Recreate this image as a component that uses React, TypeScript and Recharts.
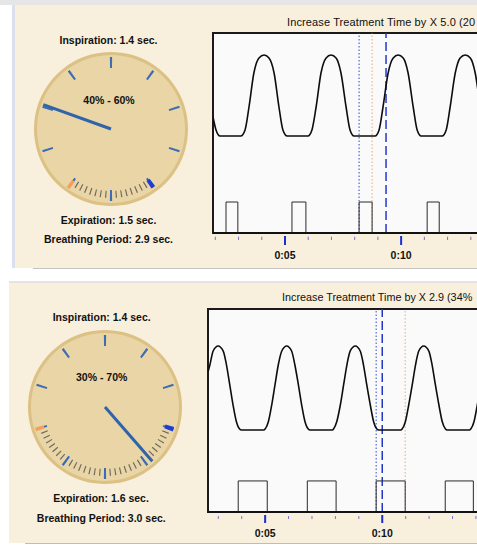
import React from 'react';
import {
  ComposedChart, Line, XAxis, YAxis, ReferenceLine, ReferenceArea,
  PieChart, Pie, Cell, PolarRadiusAxis,
} from 'recharts';

// ---------- top panel (40% - 60%) ----------
const topFlowTime = [
  1.9, 2.03, 2.2, 3.1, 3.28, 3.45, 3.66, 3.88, 4.1, 4.31, 4.53, 4.74, 4.91, 5.09,
  5.99, 6.16, 6.34, 6.55, 6.77, 6.98, 7.2, 7.41, 7.63, 7.8, 7.97,
  8.88, 9.05, 9.22, 9.44, 9.66, 9.87, 10.09, 10.3, 10.52, 10.69, 10.86,
  11.77, 11.94, 12.11, 12.33, 12.54, 12.76, 12.98, 13.19, 13.41, 13.58, 13.75, 14.3,
];
const topFlowValue = [
  58, 51.5, 48.5, 48.5, 51.5, 63, 80, 87.5, 89, 87.5, 80, 63, 51.5, 48.5,
  48.5, 51.5, 63, 80, 87.5, 89, 87.5, 80, 63, 51.5, 48.5,
  48.5, 51.5, 63, 80, 87.5, 89, 87.5, 80, 63, 51.5, 48.5,
  48.5, 51.5, 63, 80, 87.5, 89, 87.5, 80, 63, 51.5, 48.5, 48.5,
];
const topGateOn = [2.46, 5.3, 8.19, 11.12];
const topGateOff = [2.97, 5.9, 8.75, 11.64];
const topGateLevel = 15.5;
const topMarkers = { inspStart: 8.19, inspEnd: 8.75, now: 9.35 };
const topTicks = [2, 3, 4, 5, 6, 7, 8, 9, 10, 11, 12, 13, 14];

// ---------- bottom panel (30% - 70%) ----------
const botFlowTime = [
  2.56, 2.64, 2.78, 2.99, 3.21, 3.35, 3.49, 3.63, 3.77, 3.91, 3.99,
  4.95, 5.0, 5.14, 5.28, 5.42, 5.56, 5.71, 5.92, 6.13, 6.27, 6.42, 6.56, 6.7, 6.84, 6.92,
  7.88, 7.92, 8.06, 8.21, 8.35, 8.49, 8.63, 8.85, 9.06, 9.2, 9.34, 9.49, 9.63, 9.77, 9.85,
  10.8, 10.85, 10.99, 11.13, 11.28, 11.42, 11.56, 11.77, 11.99, 12.13, 12.27, 12.42, 12.56, 12.7, 12.77,
  13.73, 13.78, 13.92, 14.06, 14.21, 14.35, 14.49, 14.7, 14.92,
];
const botFlowValue = [
  69, 72.4, 79.3, 81.8, 79.3, 72.4, 62.6, 52.7, 44.6, 40.9, 40.4,
  40.4, 40.9, 44.6, 52.7, 62.6, 72.4, 79.3, 81.8, 79.3, 72.4, 62.6, 52.7, 44.6, 40.9, 40.4,
  40.4, 40.9, 44.6, 52.7, 62.6, 72.4, 79.3, 81.8, 79.3, 72.4, 62.6, 52.7, 44.6, 40.9, 40.4,
  40.4, 40.9, 44.6, 52.7, 62.6, 72.4, 79.3, 81.8, 79.3, 72.4, 62.6, 52.7, 44.6, 40.9, 40.4,
  40.4, 40.9, 44.6, 52.7, 62.6, 72.4, 79.3, 81.8, 79.3,
];
const botGateOn = [3.85, 6.8, 9.74, 12.69];
const botGateOff = [5.09, 8.03, 10.98, 13.89];
const botGateLevel = 15.3;
const botMarkers = { inspStart: 9.74, inspEnd: 10.98, now: 10.0 };
const botTicks = [3, 4, 5, 6, 7, 8, 9, 10, 11, 12, 13, 14];

// gauge: positions in percent of one breath
const majorTicks = [0, 10, 20, 30, 40, 50, 60, 70, 80, 90];
const topGauge = { insp: 40, exp: 60, needle: 80.5 };
const botGauge = { insp: 30, exp: 70, needle: 38.6 };

const CREAM = '#f8efdc';
const FACE = '#e9d5a6';
const RIM = '#dcc185';
const NEEDLE = '#2f63aa';
const FONT = '"Liberation Sans", Arial, sans-serif';

function toPoints(time: number[], value: number[]) {
  return time.map((t, i) => ({ t, v: value[i] }));
}

function gatePoints(on: number[], off: number[], level: number) {
  const pts: { t: number; v: number }[] = [];
  on.forEach((t, i) => {
    pts.push({ t, v: 0 }, { t, v: level }, { t: off[i], v: level }, { t: off[i], v: 0 });
  });
  return pts;
}

function tickSlices(positions: number[], width: number, color: string) {
  const slices: { value: number; fill: string }[] = [];
  let cursor = 0;
  [...positions].sort((a, b) => a - b).forEach((p) => {
    if (p > cursor) slices.push({ value: p - cursor, fill: 'transparent' });
    slices.push({ value: width, fill: color });
    cursor = p + width;
  });
  if (cursor < 100) slices.push({ value: 100 - cursor, fill: 'transparent' });
  return slices;
}

function TickRing({ positions, width, color, inner, outer }: any) {
  const data = tickSlices(positions, width, color);
  const start = 90 + width * 1.8;
  return (
    <Pie
      data={data}
      dataKey="value"
      cx={85}
      cy={85}
      innerRadius={inner}
      outerRadius={outer}
      startAngle={start}
      endAngle={start - 360}
      stroke="none"
      isAnimationActive={false}
    >
      {data.map((d, i) => <Cell key={i} fill={d.fill} stroke="none" />)}
    </Pie>
  );
}

function Gauge({ left, top, g }: any) {
  const minor: number[] = [];
  for (let p = g.insp + 1.25; p < g.exp - 0.1; p += 1.25) minor.push(p);
  return (
    <div style={{ position: 'absolute', left, top }}>
      <PieChart width={170} height={170} cx={85} cy={85} innerRadius={0} outerRadius={72}
        margin={{ top: 0, right: 0, bottom: 0, left: 0 }}>
        <Pie data={[{ value: 1 }]} dataKey="value" cx={85} cy={85} outerRadius={77}
          fill={RIM} stroke="none" isAnimationActive={false} />
        <Pie data={[{ value: 1 }]} dataKey="value" cx={85} cy={85} outerRadius={74}
          fill={FACE} stroke="none" isAnimationActive={false} />
        <TickRing positions={minor} width={0.28} color="#6f6a5e" inner={62} outer={69} />
        <TickRing positions={majorTicks} width={0.5} color="#3c6cb3" inner={61} outer={72} />
        <TickRing positions={[g.insp]} width={1.0} color="#1c3ed6" inner={63} outer={72} />
        <TickRing positions={[g.exp]} width={0.8} color="#f2a15c" inner={64} outer={73} />
        <PolarRadiusAxis
          angle={90 - 3.6 * g.needle}
          type="number"
          domain={[0, 100]}
          tick={false}
          axisLine={{ stroke: NEEDLE, strokeWidth: 3 }}
        />
      </PieChart>
    </div>
  );
}

function Label({ x, y, text, bold = true, anchor = 'middle', size = 10.5, spacing = 0 }: any) {
  const style: React.CSSProperties = {
    position: 'absolute',
    top: y - 7,
    height: 14,
    lineHeight: '14px',
    fontFamily: FONT,
    fontSize: size,
    fontWeight: bold ? 'bold' : 'normal',
    letterSpacing: spacing,
    color: '#111',
    whiteSpace: 'nowrap',
  };
  if (anchor === 'middle') {
    return <div style={{ ...style, left: x - 100, width: 200, textAlign: 'center' }}>{text}</div>;
  }
  return <div style={{ ...style, left: x }}>{text}</div>;
}

function makeTick(minorOff: number, majorLen: number, labelOff: number) {
  return (props: any) => {
    const { x, y, payload } = props;
    const major = payload.value % 5 === 0;
    return (
      <g>
        <line x1={x} x2={x} y1={y + (major ? 3 : minorOff)} y2={y + (major ? majorLen : 7)}
          stroke={major ? '#1a2fd0' : '#7777cc'} strokeWidth={major ? 2 : 1} />
        {major && (
          <text x={x} y={y + labelOff} textAnchor="middle" fontFamily={FONT}
            fontWeight="bold" fontSize={10.5} fill="#111">
            {`0:${String(payload.value).padStart(2, '0')}`}
          </text>
        )}
      </g>
    );
  };
}

function FlowPlot({ left, top, width, height, domain, ticks, flow, gate, markers, tickFn }: any) {
  return (
    <div style={{ position: 'absolute', left, top }}>
      <ComposedChart width={width} height={height} margin={{ top: 2, right: 0, bottom: 0, left: 2 }}>
        <XAxis dataKey="t" type="number" domain={domain} allowDataOverflow ticks={ticks} interval={0}
          height={30} tickLine={false} tickSize={0} tickMargin={0}
          axisLine={{ stroke: '#111', strokeWidth: 2 }} tick={tickFn} />
        <YAxis type="number" domain={[0, 100]} allowDataOverflow hide />
        <ReferenceArea x1={domain[0]} x2={domain[1]} y1={0} y2={100}
          fill="#fafafa" fillOpacity={1} stroke="#1a1a1a" strokeWidth={2} />
        <ReferenceLine x={markers.inspStart} stroke="#3348cc" strokeDasharray="1.5 2" />
        <ReferenceLine x={markers.inspEnd} stroke="#e6a77a" strokeDasharray="1.5 2" />
        <ReferenceLine x={markers.now} stroke="#2438c8" strokeWidth={1.5} strokeDasharray="9 4" />
        <Line data={gate} dataKey="v" type="linear" stroke="#2a2a2a" strokeWidth={1}
          dot={false} isAnimationActive={false} />
        <Line data={flow} dataKey="v" type="monotone" stroke="#0d0d0d" strokeWidth={1.6}
          dot={false} isAnimationActive={false} />
      </ComposedChart>
    </div>
  );
}

export default function App() {
  return (
    <div style={{ position: 'fixed', left: 0, top: 0, width: 477, height: 548, overflow: 'hidden', background: '#fff' }}>
      {/* top panel */}
      <div style={{ position: 'absolute', left: 0, top: 0, width: 477, height: 5, background: '#e6e6e6' }} />
      <div style={{ position: 'absolute', left: 12, top: 5, width: 465, height: 263, background: CREAM, borderLeft: '3px solid #dcdfee', boxSizing: 'border-box' }} />
      <div style={{ position: 'absolute', left: 33, top: 268, width: 444, height: 1, background: '#c4c4c4' }} />
      <Label x={108.5} y={40} text="Inspiration: 1.4 sec." />
      <Gauge left={110.5 - 85} top={129 - 85} g={topGauge} />
      <Label x={109} y={100} text="40% - 60%" />
      <Label x={108.5} y={220} text="Expiration: 1.5 sec." />
      <Label x={108.5} y={239} text="Breathing Period: 2.9 sec." />
      <Label x={287} y={22} text="Increase Treatment Time by X 5.0 (20" bold={false} anchor="start" size={11} spacing={0.12} />
      <FlowPlot left={211} top={31} width={290} height={232} domain={[1.9, 14.3]} ticks={topTicks}
        flow={toPoints(topFlowTime, topFlowValue)} gate={gatePoints(topGateOn, topGateOff, topGateLevel)}
        markers={topMarkers} tickFn={makeTick(3.7, 12, 26)} />

      {/* bottom panel */}
      <div style={{ position: 'absolute', left: 9, top: 281, width: 468, height: 2, background: '#e4e4e4' }} />
      <div style={{ position: 'absolute', left: 9, top: 283, width: 468, height: 260, background: CREAM }} />
      <div style={{ position: 'absolute', left: 25, top: 543, width: 452, height: 1, background: '#bdbdbd' }} />
      <Label x={101.7} y={317} text="Inspiration: 1.4 sec." />
      <Gauge left={104.5 - 85} top={406.5 - 85} g={botGauge} />
      <Label x={101.7} y={377} text="30% - 70%" />
      <Label x={101} y={498} text="Expiration: 1.6 sec." />
      <Label x={101.3} y={518} text="Breathing Period: 3.0 sec." />
      <Label x={282} y={297} text="Increase Treatment Time by X 2.9 (34%" bold={false} anchor="start" size={10.8} />
      <FlowPlot left={206} top={307} width={291} height={235} domain={[2.56, 14.9]} ticks={botTicks}
        flow={toPoints(botFlowTime, botFlowValue)} gate={gatePoints(botGateOn, botGateOff, botGateLevel)}
        markers={botMarkers} tickFn={makeTick(4, 11, 25)} />
    </div>
  );
}
